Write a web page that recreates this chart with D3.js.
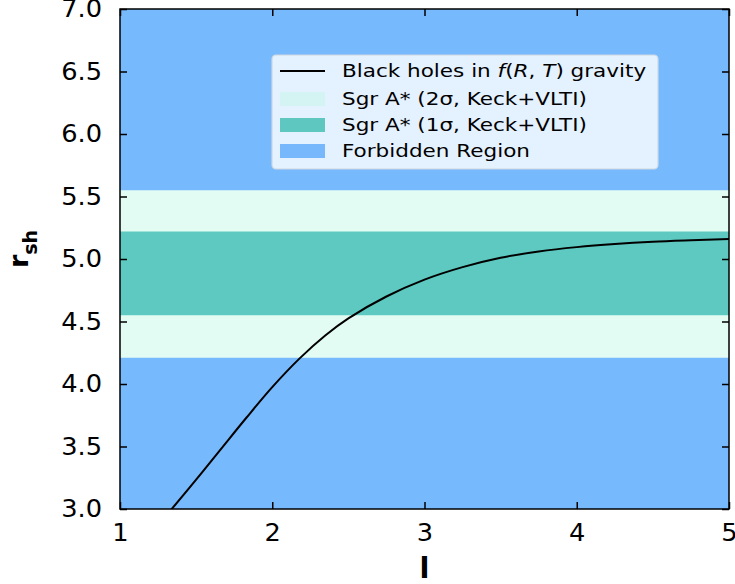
<!DOCTYPE html>
<html>
<head>
<meta charset="utf-8">
<script src="https://cdn.jsdelivr.net/npm/d3@7"></script>
<style>
  html, body { margin: 0; padding: 0; background: #ffffff; }
  svg { display: block; }
  text { font-family: "DejaVu Sans", sans-serif; fill: #000; }
</style>
</head>
<body>
<svg id="chart" width="735" height="584"></svg>
<script>
// Shadow radius of black holes in f(R,T) gravity vs. parameter l
const lValues = [1.20, 1.34, 1.50, 1.66, 1.83, 2.00, 2.18, 2.35, 2.50, 2.75, 3.00, 3.25, 3.50, 3.75, 4.00, 4.25, 4.50, 4.75, 5.00];
const rshValues = [2.80, 3.00, 3.235, 3.475, 3.73, 3.975, 4.205, 4.39, 4.525, 4.70, 4.835, 4.935, 5.01, 5.06, 5.095, 5.12, 5.138, 5.15, 5.16];

// Sgr A* shadow bounds (Keck+VLTI)
const sigma1 = [4.55, 5.22];
const sigma2 = [4.21, 5.55];

const xTicks = [1, 2, 3, 4, 5];
const yTicks = [3.0, 3.5, 4.0, 4.5, 5.0, 5.5, 6.0, 6.5, 7.0];

const legendLabels = ["Black holes in f(R, T) gravity", "Sgr A* (2σ, Keck+VLTI)", "Sgr A* (1σ, Keck+VLTI)", "Forbidden Region"];

const colors = { forbidden: "#77b9fd", sigma2: "#e3fcf3", sigma1: "#5dc9c0", line: "#000000" };

const margin = { left: 120, right: 6, top: 9, bottom: 75 };
const W = 735, H = 584;
const svg = d3.select("#chart");

const x = d3.scaleLinear().domain([1, 5]).range([margin.left, W - margin.right]);
const y = d3.scaleLinear().domain([3, 7]).range([H - margin.bottom, margin.top]);

const plot = svg.append("g");
const clipId = "plotclip";
svg.append("defs").append("clipPath").attr("id", clipId)
  .append("rect").attr("x", x(1)).attr("y", y(7)).attr("width", x(5) - x(1)).attr("height", y(3) - y(7));

// Bands: forbidden region underneath, then 2σ and 1σ ranges
const bands = [
  { lo: 3, hi: 7, c: colors.forbidden },
  { lo: sigma2[0], hi: sigma2[1], c: colors.sigma2 },
  { lo: sigma1[0], hi: sigma1[1], c: colors.sigma1 }
];
plot.selectAll("rect.band").data(bands).join("rect")
  .attr("class", "band")
  .attr("x", x(1)).attr("width", x(5) - x(1))
  .attr("y", d => y(d.hi)).attr("height", d => y(d.lo) - y(d.hi))
  .attr("fill", d => d.c);

// Curve
const pts = lValues.map((v, i) => [v, rshValues[i]]);
plot.append("path")
  .datum(pts)
  .attr("clip-path", `url(#${clipId})`)
  .attr("fill", "none")
  .attr("stroke", colors.line)
  .attr("stroke-width", 2)
  .attr("d", d3.line().x(d => x(d[0])).y(d => y(d[1])).curve(d3.curveCatmullRom.alpha(0.5)));

// Axes with inward ticks on all sides
const tickLen = 7;
const sx = 1.07;
const axB = svg.append("g").attr("transform", `translate(0,${y(3)})`)
  .call(d3.axisBottom(x).tickValues(xTicks).tickFormat(d3.format("d")).tickSizeInner(-tickLen).tickSizeOuter(0).tickPadding(15));
const axL = svg.append("g").attr("transform", `translate(${x(1)},0)`)
  .call(d3.axisLeft(y).tickValues(yTicks).tickFormat(d3.format(".1f")).tickSizeInner(-tickLen).tickSizeOuter(0).tickPadding(18));
const axT = svg.append("g").attr("transform", `translate(0,${y(7)})`)
  .call(d3.axisTop(x).tickValues(xTicks).tickFormat("").tickSizeInner(-tickLen).tickSizeOuter(0));
const axR = svg.append("g").attr("transform", `translate(${x(5)},0)`)
  .call(d3.axisRight(y).tickValues(yTicks).tickFormat("").tickSizeInner(-tickLen).tickSizeOuter(0));

[axB, axL, axT, axR].forEach(a => {
  a.select(".domain").remove();
  a.selectAll("line").attr("stroke", "#000").attr("stroke-width", 1.5);
  a.selectAll("text").attr("font-size", 24).attr("font-family", "DejaVu Sans").attr("fill", "#000")
    .attr("transform", `scale(${sx},1)`);
});
axL.selectAll("text").attr("x", -18 / sx);

// Frame
svg.append("rect")
  .attr("x", x(1)).attr("y", y(7)).attr("width", x(5) - x(1)).attr("height", y(3) - y(7))
  .attr("fill", "none").attr("stroke", "#000").attr("stroke-width", 1.5);

// Axis labels
svg.append("text")
  .attr("x", (x(1) + x(5)) / 2).attr("y", 578)
  .attr("text-anchor", "middle").attr("font-size", 29).attr("font-weight", "bold")
  .text("l");
const yl = svg.append("text")
  .attr("transform", `translate(28,249) rotate(-90)`)
  .attr("text-anchor", "middle").attr("font-size", 27).attr("font-weight", "bold");
yl.append("tspan").text("r");
yl.append("tspan").attr("font-size", 19).attr("dy", 9).text("sh");

// Legend
const lg = svg.append("g").attr("transform", "translate(272,55)");
lg.append("rect").attr("width", 386).attr("height", 114).attr("rx", 4)
  .attr("fill", "#e4f1fe").attr("stroke", "#cfd8e0").attr("stroke-width", 1.2);
const rowY = [16, 44, 70, 96];
const swatches = ["line", "#d4f4f4", "#5ec8c0", "#77b7fb"];
rowY.forEach((ry, i) => {
  if (i === 0) {
    lg.append("line").attr("x1", 8).attr("x2", 53).attr("y1", ry).attr("y2", ry)
      .attr("stroke", "#000").attr("stroke-width", 2);
  } else {
    lg.append("rect").attr("x", 8).attr("y", ry - 7).attr("width", 45).attr("height", 14).attr("fill", swatches[i]);
  }
});
const lsx = 1.23;
const rowG = rowY.map(ry => lg.append("g").attr("transform", `translate(70,${ry}) scale(${lsx},1)`));
const t0 = rowG[0].append("text").attr("dy", "0.35em").attr("font-size", 17.5);
t0.append("tspan").text("Black holes in ");
t0.append("tspan").attr("font-style", "italic").text("f");
t0.append("tspan").text("(");
t0.append("tspan").attr("font-style", "italic").text("R");
t0.append("tspan").text(", ");
t0.append("tspan").attr("font-style", "italic").text("T");
t0.append("tspan").text(") gravity");
legendLabels.slice(1).forEach((s, i) => {
  rowG[i + 1].append("text").attr("dy", "0.35em").attr("font-size", 17.5).text(s);
});
</script>
</body>
</html>
